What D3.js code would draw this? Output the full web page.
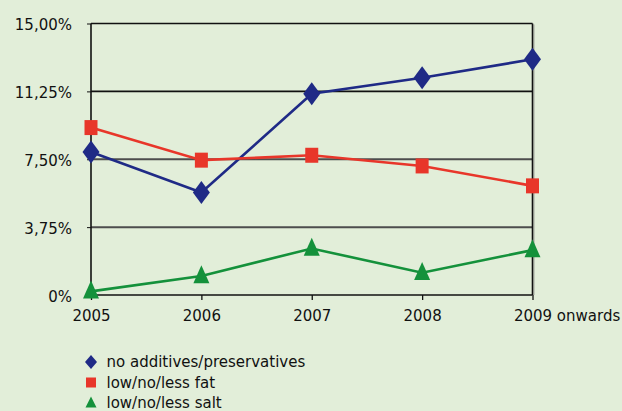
<!DOCTYPE html>
<html><head><meta charset="utf-8">
<script src="https://cdn.jsdelivr.net/npm/d3@7"></script>
<style>
html,body{margin:0;padding:0;background:#e2eed9;}
svg{display:block;font-family:"DejaVu Sans", sans-serif;}
</style></head><body>
<svg id="c" width="622" height="411"></svg>
<script>
const categories = ["2005","2006","2007","2008","2009 onwards"];
const seriesNames = ["no additives/preservatives","low/no/less fat","low/no/less salt"];
const additives = [7.9, 5.66, 11.12, 12.0, 13.02];
const fat = [9.25, 7.45, 7.72, 7.13, 6.03];
const salt = [0.2, 1.05, 2.57, 1.23, 2.48];
const yTicks = [0, 3.75, 7.5, 11.25, 15];
const yTickLabels = ["0%","3,75%","7,50%","11,25%","15,00%"];
const colors = ["#1f2a86","#e8362a","#14913b"];
const shapes = ["diamond","square","triangle"];

(function(){
const svg = d3.select("#c");
const FONT = "DejaVu Sans";
const FS = 15;
const pL = 91, pR = 532.5, pT = 23.5, pB = 295;
const x = d3.scalePoint().domain(categories).range([pL, pR]);
const y = d3.scaleLinear().domain([0, 15]).range([pB, pT]);

// gridlines
svg.append("g").selectAll("line").data(yTicks.filter(d => d > 0)).join("line")
  .attr("x1", pL).attr("x2", pR)
  .attr("y1", d => y(d)).attr("y2", d => y(d))
  .attr("stroke", d => d >= 11.25 ? "#111" : "#4d4d4d")
  .attr("stroke-width", d => d >= 11.25 ? 1.6 : 2);

// right border with shadow
svg.append("line").attr("x1", pR + 1.5).attr("x2", pR + 1.5).attr("y1", pT + 1).attr("y2", pB)
  .attr("stroke", "#b8bfb2").attr("stroke-width", 1.5);
svg.append("line").attr("x1", pR).attr("x2", pR).attr("y1", pT).attr("y2", pB)
  .attr("stroke", "#111").attr("stroke-width", 1.6);

// y axis
const yAxis = d3.axisLeft(y).tickValues(yTicks).tickFormat((d, i) => yTickLabels[i]).tickSize(4).tickPadding(15);
const gy = svg.append("g").attr("transform", `translate(${pL},0)`).call(yAxis);
gy.select(".domain").attr("stroke", "#111").attr("stroke-width", 1.6).attr("d", `M0,${pT}V${pB}`);
gy.selectAll(".tick line").attr("stroke", "#111");
gy.selectAll("text").attr("font-size", FS).attr("fill", "#111").attr("font-family", FONT).attr("dy", "0.42em");

// x axis
const xAxis = d3.axisBottom(x).tickSize(5).tickPadding(10);
const gx = svg.append("g").attr("transform", `translate(0,${pB})`).call(xAxis);
gx.select(".domain").attr("stroke", "#111").attr("stroke-width", 1.6).attr("d", `M${pL},0H${pR}`);
gx.selectAll(".tick line").attr("stroke", "#111").attr("stroke-width", 1.3);
gx.selectAll("text").attr("font-size", FS).attr("fill", "#111").attr("font-family", FONT)
  .each(function(d) {
    const parts = d.split(" ");
    if (parts.length > 1) {
      const t = d3.select(this);
      t.text(parts[0]);
      const w = this.getComputedTextLength();
      t.text(d).attr("text-anchor", "start").attr("x", -w / 2);
    }
  });

const allSeries = [additives, fat, salt];
const line = d3.line().x((d, i) => x(categories[i])).y(d => y(d));

function markerPath(shape, w, h) {
  if (shape === "diamond") return `M0,${-h/2}L${w/2},0L0,${h/2}L${-w/2},0Z`;
  if (shape === "square") return `M${-w/2},${-h/2}H${w/2}V${h/2}H${-w/2}Z`;
  return `M0,${-h*0.6}L${w/2},${h*0.4}L${-w/2},${h*0.4}Z`;
}
const sizes = [[17, 23], [13, 15], [16, 18]];

allSeries.forEach((s, k) => {
  svg.append("path").datum(s).attr("d", line).attr("fill", "none")
    .attr("stroke", colors[k]).attr("stroke-width", 2.6);
});
allSeries.forEach((s, k) => {
  svg.append("g").selectAll("path").data(s).join("path")
    .attr("transform", (d, i) => `translate(${x(categories[i])},${y(d)})`)
    .attr("d", markerPath(shapes[k], sizes[k][0], sizes[k][1]))
    .attr("fill", colors[k]);
});

// legend
const legendY = [362, 382.5, 403];
const lsizes = [[12, 14], [10, 10], [11, 11]];
const lg = svg.append("g");
seriesNames.forEach((n, k) => {
  lg.append("path").attr("transform", `translate(91,${legendY[k]})`)
    .attr("d", markerPath(shapes[k], lsizes[k][0], lsizes[k][1])).attr("fill", colors[k]);
  lg.append("text").attr("x", 106.5).attr("y", legendY[k]).attr("dy", "0.36em")
    .attr("font-size", FS).attr("fill", "#111").attr("font-family", FONT).text(n);
});
})();
</script>
</body></html>
